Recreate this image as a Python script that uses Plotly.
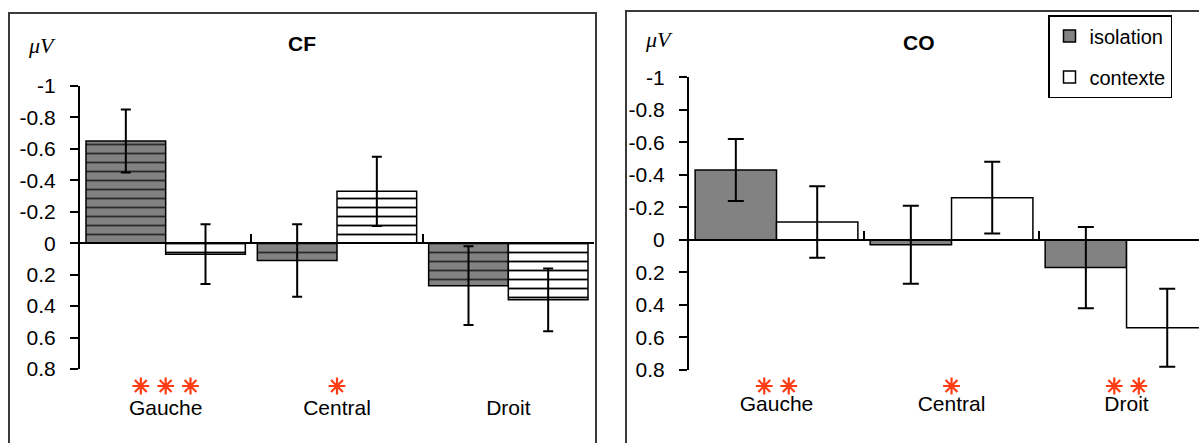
import plotly.graph_objects as go

# ---- data -------------------------------------------------------------
categories = ["Gauche", "Central", "Droit"]

cf_isolation = [-0.65, 0.11, 0.27]
cf_isolation_err = [0.20, 0.23, 0.25]
cf_contexte = [0.07, -0.33, 0.36]
cf_contexte_err = [0.19, 0.22, 0.20]

co_isolation = [-0.43, 0.03, 0.17]
co_isolation_err = [0.19, 0.24, 0.25]
co_contexte = [-0.11, -0.26, 0.54]
co_contexte_err = [0.22, 0.22, 0.24]

# number of significance stars under each region
cf_stars = [3, 1, 0]
co_stars = [2, 1, 2]

y_tickvals = [-1, -0.8, -0.6, -0.4, -0.2, 0, 0.2, 0.4, 0.6, 0.8]
y_ticktext = ["-1", "-0.8", "-0.6", "-0.4", "-0.2", "0", "0.2", "0.4", "0.6", "0.8"]

# ---- styling helpers ----------------------------------------------------
W, H = 1199, 443
GRAY = "#828282"
STAR_RED = "#ff3c14"
SANS = "Liberation Sans, Arial, sans-serif"
SERIF = "Liberation Serif, Times New Roman, serif"


def fx(px):
    return px / W


def fy(py):
    return 1 - py / H


xpos = list(range(len(categories)))
x_bounds = [i + 0.5 for i in xpos]
y_range = [0.8, -1]


def zero_position(domain):
    # paper position of y = 0 on a reversed axis spanning y_range
    lo, hi = domain
    return lo + (y_range[0] - 0) / (y_range[0] - y_range[1]) * (hi - lo)


fig = go.Figure()


def add_bars(vals, errs, name, xa, ya, fill, pattern, cap, legend):
    marker = dict(color=fill, line=dict(color="black", width=1.5))
    if pattern:
        marker["pattern"] = dict(
            shape="-", bgcolor=fill,
            fgcolor="#2a2a2a" if fill != "white" else "black",
            size=9, solidity=0.2, fillmode="replace",
        )
    fig.add_trace(go.Bar(
        x=xpos, y=vals, name=name, xaxis=xa, yaxis=ya,
        offsetgroup=name, marker=marker, showlegend=legend,
        legendgroup=name if legend else None,
        error_y=dict(type="data", array=errs, visible=True,
                     color="black", thickness=2, width=cap),
    ))


def add_stars(counts, spacing, xa, ya):
    xs, ys = [], []
    for i, n in enumerate(counts):
        for k in range(n):
            xs.append(i + (k - (n - 1) / 2) * spacing)
            ys.append(0.5)
    fig.add_trace(go.Scatter(
        x=xs, y=ys, mode="markers", xaxis=xa, yaxis=ya, showlegend=False,
        hoverinfo="skip",
        marker=dict(symbol="asterisk-open", size=14, color=STAR_RED,
                    line=dict(color=STAR_RED, width=2.2)),
    ))


# CF panel: hatched bars
add_bars(cf_isolation, cf_isolation_err, "isolation", "x", "y", GRAY, True, 5, False)
add_bars(cf_contexte, cf_contexte_err, "contexte", "x", "y", "white", True, 5, False)

# CO panel: plain bars
add_bars(co_isolation, co_isolation_err, "isolation", "x2", "y2", GRAY, False, 8, True)
add_bars(co_contexte, co_contexte_err, "contexte", "x2", "y2", "white", False, 8, True)

# significance stars sit in thin strips below each panel
add_stars(cf_stars, 0.145, "x5", "y5")
add_stars(co_stars, 0.14, "x6", "y6")

tickfont = dict(family=SANS, size=21, color="black")

cf_ydom = [fy(369), fy(86)]
co_ydom = [fy(370), fy(77.3)]
star_ydom = [fy(398), fy(374)]
cf_xdom = [fx(80), fx(594)]
co_xdom = [fx(689), 1.0]
cf_xrange = [-0.5, 2.5]
co_xrange = [-0.5, 2.414]

zero_axis = dict(
    anchor="free", showline=True, linecolor="black", linewidth=2,
    ticks="inside", ticklen=8, tickwidth=2, tickcolor="black",
    tickvals=x_bounds, showticklabels=False, showgrid=False, zeroline=False,
    automargin=False,
)
label_axis = dict(
    tickvals=xpos, ticktext=categories, ticks="", showline=False,
    showgrid=False, zeroline=False, tickfont=tickfont, side="bottom",
    automargin=False,
)
value_axis = dict(
    range=y_range, showline=True, linecolor="black", linewidth=2,
    ticks="outside", ticklen=8, tickwidth=2, tickcolor="black",
    tickvals=y_tickvals, ticktext=y_ticktext, tickfont=tickfont,
    showgrid=False, zeroline=False, ticklabelstandoff=10,
    automargin=False,
)
hidden = dict(visible=False, automargin=False, showgrid=False, zeroline=False)

fig.update_layout(
    width=W, height=H,
    margin=dict(l=0, r=0, t=0, b=0, pad=0, autoexpand=False),
    paper_bgcolor="white", plot_bgcolor="rgba(0,0,0,0)",
    barmode="group", bargap=0.07, bargroupgap=0,
    font=dict(family=SANS, color="black"),
    xaxis=dict(domain=cf_xdom, range=cf_xrange,
               position=zero_position(cf_ydom), **zero_axis),
    xaxis2=dict(domain=co_xdom, range=co_xrange,
                position=zero_position(co_ydom), **zero_axis),
    xaxis3=dict(overlaying="x", anchor="y", range=cf_xrange,
                ticklabelstandoff=24, **label_axis),
    xaxis4=dict(overlaying="x2", anchor="y2", range=co_xrange,
                ticklabelstandoff=19, **label_axis),
    yaxis=dict(domain=cf_ydom, anchor="x", **value_axis),
    yaxis2=dict(domain=co_ydom, anchor="x2", **value_axis),
    xaxis5=dict(domain=cf_xdom, range=cf_xrange, anchor="y5", **hidden),
    yaxis5=dict(domain=star_ydom, range=[0, 1], anchor="x5", **hidden),
    xaxis6=dict(domain=co_xdom, range=co_xrange, anchor="y6", **hidden),
    yaxis6=dict(domain=star_ydom, range=[0, 1], anchor="x6", **hidden),
    showlegend=True,
    legend=dict(
        x=fx(1048), y=fy(15), xanchor="left", yanchor="top",
        bordercolor="black", borderwidth=1.5, bgcolor="white",
        font=dict(family=SANS, size=20, color="black"),
        tracegroupgap=12, itemwidth=30,
    ),
)

# panel frames
frame = dict(type="rect", xref="paper", yref="paper",
             line=dict(color="#3a3a3a", width=2), fillcolor="rgba(0,0,0,0)",
             layer="below")
fig.add_shape(x0=fx(9), x1=fx(596), y0=fy(13), y1=fy(470), **frame)
fig.add_shape(x0=fx(626), x1=fx(1260), y0=fy(11), y1=fy(470), **frame)

# panel titles and unit labels
for title, cx, cy in [("CF", 302, 43.5), ("CO", 919, 42)]:
    fig.add_annotation(text=title, x=fx(cx), y=fy(cy), xref="paper", yref="paper",
                       showarrow=False, xanchor="center", yanchor="middle",
                       font=dict(family=SANS, size=21, color="black", weight="bold"))
for cx, cy in [(42, 45), (659, 40)]:
    fig.add_annotation(text="μV", x=fx(cx), y=fy(cy), xref="paper", yref="paper",
                       showarrow=False, xanchor="center", yanchor="middle",
                       font=dict(family=SERIF, size=22, color="black", style="italic"))

# the label axes need a trace each so that their tick labels are drawn
fig.add_trace(go.Scatter(x=xpos, y=[None] * len(xpos), xaxis="x3", yaxis="y",
                         showlegend=False, hoverinfo="skip", mode="markers"))
fig.add_trace(go.Scatter(x=xpos, y=[None] * len(xpos), xaxis="x4", yaxis="y2",
                         showlegend=False, hoverinfo="skip", mode="markers"))

fig.write_html("out.html")
